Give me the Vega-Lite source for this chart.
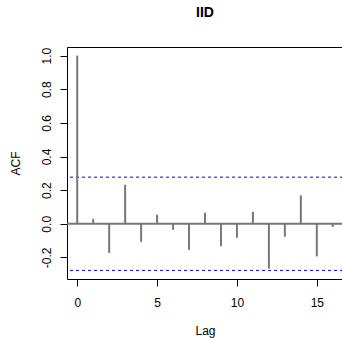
{
  "$schema": "https://vega.github.io/schema/vega-lite/v6.json",
  "autosize": {"type": "none"},
  "padding": {"left": 67, "top": 47, "right": 0, "bottom": 59},
  "width": 276,
  "height": 232,
  "background": "white",
  "config": {
    "font": "Liberation Sans",
    "view": {"stroke": "black", "strokeWidth": 1},
    "axis": {"grid": false, "domain": false, "tickColor": "black", "tickSize": 7, "tickWidth": 1, "labelFontSize": 12, "labelColor": "black", "titleFontSize": 12, "titleFontWeight": "normal", "titleColor": "black", "labelFont": "Liberation Sans", "titleFont": "Liberation Sans", "labelOverlap": false, "labelFlush": false, "labelBound": false}
  },
  "title": {"text": "IID", "fontSize": 14, "fontWeight": "bold", "font": "Liberation Sans", "anchor": "middle", "baseline": "alphabetic", "offset": 16, "color": "black"},
  "datasets": {
    "acf": [
      {"lag": 0, "acf": 1.0},
      {"lag": 1, "acf": 0.030},
      {"lag": 2, "acf": -0.173},
      {"lag": 3, "acf": 0.232},
      {"lag": 4, "acf": -0.107},
      {"lag": 5, "acf": 0.054},
      {"lag": 6, "acf": -0.036},
      {"lag": 7, "acf": -0.155},
      {"lag": 8, "acf": 0.065},
      {"lag": 9, "acf": -0.133},
      {"lag": 10, "acf": -0.083},
      {"lag": 11, "acf": 0.071},
      {"lag": 12, "acf": -0.266},
      {"lag": 13, "acf": -0.077},
      {"lag": 14, "acf": 0.169},
      {"lag": 15, "acf": -0.194},
      {"lag": 16, "acf": -0.018}
    ],
    "limits": [{"ci": 0.2772}, {"ci": -0.2772}],
    "zero": [{"z": 0}]
  },
  "layer": [
    {
      "data": {"name": "zero"},
      "mark": {"type": "rule", "color": "#777777", "strokeWidth": 2},
      "encoding": {
        "y": {"field": "z", "type": "quantitative", "scale": {"domain": [-0.3283, 1.0511], "nice": false, "zero": false},
          "axis": {"title": "ACF", "values": [-0.2, 0, 0.2, 0.4, 0.6, 0.8, 1.0], "labelOverlap": false, "labelExpr": "replace(format(datum.value, '.1f'), '\u2212', '-')", "labelAngle": -90, "labelAlign": "center", "labelBaseline": "alphabetic", "labelPadding": 10, "titleBaseline": "alphabetic", "titleX": -48, "titleY": 116, "titleAngle": -90}}
      }
    },
    {
      "data": {"name": "limits"},
      "mark": {"type": "rule", "color": "#0000ff", "strokeWidth": 1, "strokeDash": [3, 3]},
      "encoding": {
        "y": {"field": "ci", "type": "quantitative",
          "axis": {"title": "ACF", "values": [-0.2, 0, 0.2, 0.4, 0.6, 0.8, 1.0], "labelOverlap": false, "labelExpr": "replace(format(datum.value, '.1f'), '\u2212', '-')", "labelAngle": -90, "labelAlign": "center", "labelBaseline": "alphabetic", "labelPadding": 10, "titleBaseline": "alphabetic", "titleX": -48, "titleY": 116, "titleAngle": -90}}
      }
    },
    {
      "data": {"name": "acf"},
      "mark": {"type": "rule", "color": "#777777", "strokeWidth": 2},
      "encoding": {
        "x": {"field": "lag", "type": "quantitative", "scale": {"domain": [-0.64, 16.64], "nice": false, "zero": false},
          "axis": {"title": "Lag", "values": [0, 5, 10, 15], "labelOverlap": false, "labelBaseline": "alphabetic", "labelPadding": 20, "titleBaseline": "alphabetic", "titleY": 55.6, "titleX": 138}},
        "y": {"field": "acf", "type": "quantitative",
          "axis": {"title": "ACF", "values": [-0.2, 0, 0.2, 0.4, 0.6, 0.8, 1.0], "labelOverlap": false, "labelExpr": "replace(format(datum.value, '.1f'), '\u2212', '-')", "labelAngle": -90, "labelAlign": "center", "labelBaseline": "alphabetic", "labelPadding": 10, "titleBaseline": "alphabetic", "titleX": -48, "titleY": 116, "titleAngle": -90}},
        "y2": {"datum": 0}
      }
    }
  ]
}
